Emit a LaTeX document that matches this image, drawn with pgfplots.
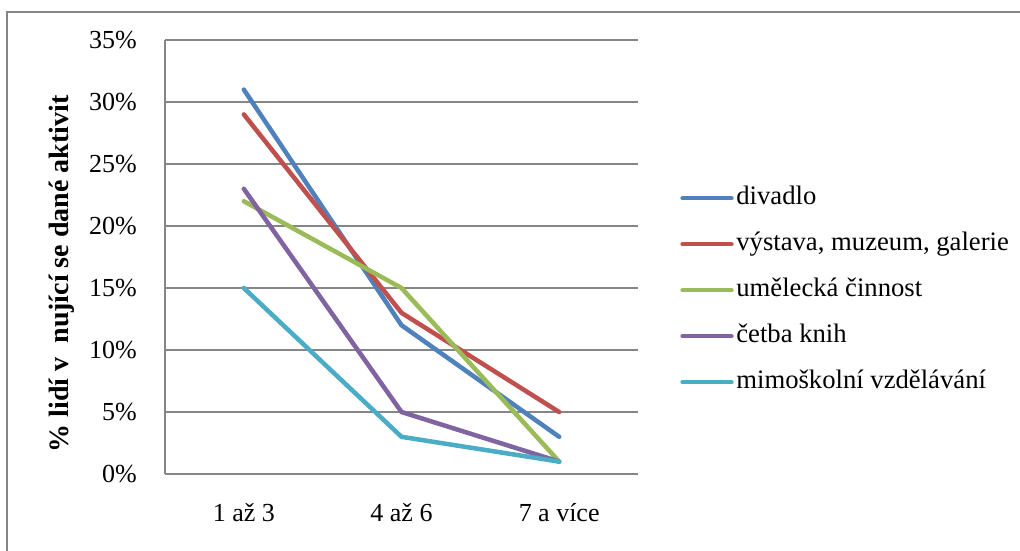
\documentclass[border=0pt]{standalone}
\usepackage{fontspec}
\setmainfont{Liberation Serif}
\usepackage{pgfplots}
\pgfplotsset{compat=1.18}
\definecolor{cBlue}{HTML}{4F81BD}
\definecolor{cRed}{HTML}{C0504D}
\definecolor{cGreen}{HTML}{9BBB59}
\definecolor{cPurple}{HTML}{8064A2}
\definecolor{cAqua}{HTML}{4BACC6}
\definecolor{cGrid}{HTML}{868686}
\begin{document}
\begin{tikzpicture}
\path[use as bounding box] (0,0) rectangle (765pt,-412.5pt);
\draw[cGrid, line width=1.1pt] (5.25pt,-420pt) -- (5.25pt,-9pt) -- (770pt,-9pt);
\begin{axis}[
  at={(123.75pt,-355.5pt)}, anchor=south west,
  scale only axis, width=354.75pt, height=325.5pt,
  xmin=-0.5, xmax=2.5, ymin=0, ymax=35,
  xtick={0,1,2}, xticklabels={1 až 3, 4 až 6, 7 a více},
  ytick={0,5,10,15,20,25,30,35},
  yticklabels={0\%,5\%,10\%,15\%,20\%,25\%,30\%,35\%},
  major tick length=0pt,
  axis x line*=bottom, axis y line*=left,
  axis line style={cGrid, line width=1.1pt, -},
  ymajorgrids, grid style={cGrid, line width=1.1pt},
  font=\fontsize{19.5}{22}\selectfont,
  /pgf/number format/assume math mode=true,
  yticklabel style={inner sep=0pt, xshift=-21pt},
  xticklabel style={inner sep=0pt, yshift=-22pt},
  ylabel={\bfseries\% lidí v\ \ nující se dané aktivit},
  ylabel style={at={(axis description cs:-0.218,0.461)}, anchor=center, font=\fontsize{21}{24}\selectfont},
  legend cell align=left,
  legend image code/.code={\draw[#1, line width=3pt, line cap=round] (0pt,0pt) -- (37pt,0pt);},
  legend style={draw=none, fill=none, at={(axis description cs:1.089,0.662)}, anchor=north west,
    inner sep=0pt, row sep=17.5pt,
    nodes={inner xsep=2pt, inner ysep=0pt, text height=13pt, text depth=4pt},
    font=\fontsize{20}{23}\selectfont},
  every axis plot/.append style={line width=3.4pt, line join=round, line cap=round},
]
\addplot[cBlue] coordinates {(0,31) (1,12) (2,3)};
\addlegendentry{divadlo}
\addplot[cRed] coordinates {(0,29) (1,13) (2,5)};
\addlegendentry{výstava, muzeum, galerie}
\addplot[cGreen] coordinates {(0,22) (1,15) (2,1)};
\addlegendentry{umělecká činnost}
\addplot[cPurple] coordinates {(0,23) (1,5) (2,1)};
\addlegendentry{četba knih}
\addplot[cAqua] coordinates {(0,15) (1,3) (2,1)};
\addlegendentry{mimoškolní vzdělávání}
\end{axis}
\end{tikzpicture}
\end{document}
